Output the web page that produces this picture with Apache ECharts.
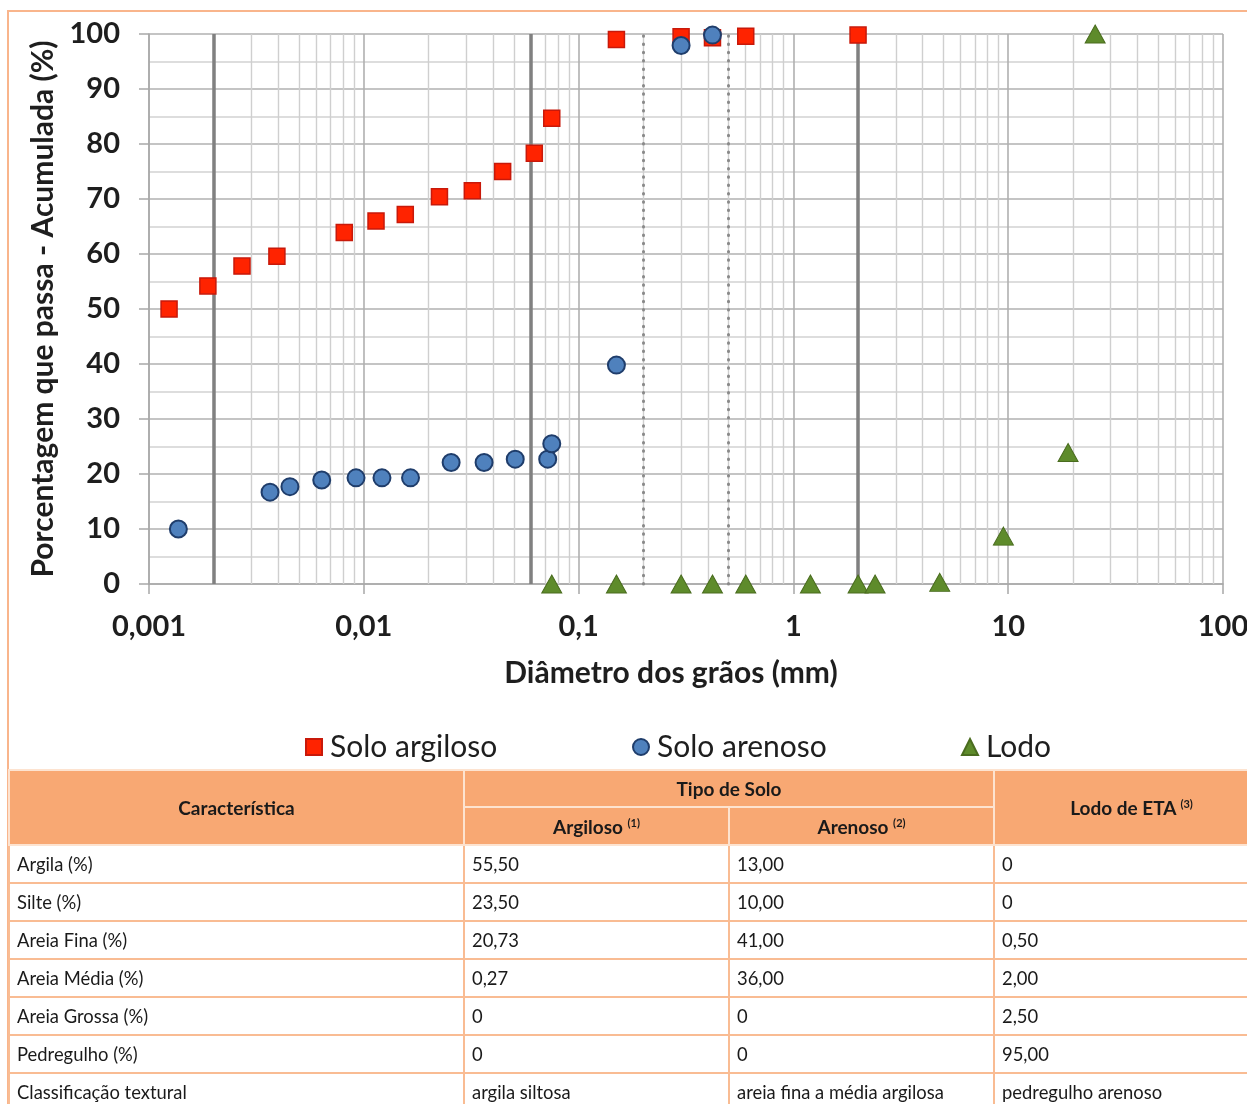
<!DOCTYPE html>
<html><head><meta charset="utf-8">
<script src="https://cdn.jsdelivr.net/npm/echarts@6/dist/echarts.min.js"></script>
<style>
html,body{margin:0;padding:0;background:#fff;width:1247px;height:1104px;overflow:hidden;}
#frame{position:absolute;left:7px;top:10px;width:1260px;height:1110px;border-left:2px solid #F9B58C;border-top:2px solid #F9B58C;box-sizing:border-box;}
#chart{position:absolute;left:0;top:0;width:1247px;height:770px;}
#tbl{position:absolute;left:8px;top:769px;width:1260px;border-collapse:collapse;table-layout:fixed;font-family:Lato,"Open Sans",sans-serif;font-size:18.4px;color:#1a1a1a;}
#tbl th{background:#F8A873;font-weight:bold;font-size:19px;text-align:center;border:2px solid #FDE3D0;padding:0;}
#tbl td{border:2px solid #F9BC93;padding:0 0 0 7px;text-align:left;height:36px;white-space:nowrap;}
#tbl sup{font-size:11px;vertical-align:7px;}
</style></head>
<body>
<div id="frame"></div>
<div id="chart"></div>
<table id="tbl"></table>
<script>
// ---- data ----
const seriesNames = ['Solo argiloso', 'Solo arenoso', 'Lodo'];
const xTickLabels = ['0,001', '0,01', '0,1', '1', '10', '100'];
const argilosoX = [0.00124, 0.00188, 0.00271, 0.00394, 0.00811, 0.0114, 0.0156, 0.0225, 0.032, 0.0443, 0.0622, 0.075, 0.15, 0.3, 0.42, 0.6, 2.0];
const argilosoY = [50.0, 54.2, 57.8, 59.6, 63.9, 66.0, 67.2, 70.4, 71.5, 75.0, 78.3, 84.7, 99.0, 99.5, 99.3, 99.6, 99.8];
const arenosoX = [0.00137, 0.00366, 0.00453, 0.00637, 0.0092, 0.01215, 0.0165, 0.0255, 0.0363, 0.0507, 0.0718, 0.075, 0.15, 0.3, 0.42];
const arenosoY = [10.0, 16.7, 17.7, 18.9, 19.3, 19.3, 19.3, 22.1, 22.1, 22.7, 22.7, 25.5, 39.8, 97.9, 99.8];
const lodoX = [0.075, 0.15, 0.3, 0.42, 0.6, 1.2, 2.0, 2.4, 4.8, 9.5, 19.0, 25.4];
const lodoY = [0, 0, 0, 0, 0, 0, 0, 0, 0.3, 8.7, 23.9, 100];
const boundarySolid = [0.002, 0.06, 2];
const boundaryDotted = [0.2, 0.5];
const minorMultipliers = [2, 3, 4, 5, 6, 7, 8, 9];
const decades = [0.001, 0.01, 0.1, 1, 10];

const tableRowLabels = ['Argila (%)', 'Silte (%)', 'Areia Fina (%)', 'Areia Média (%)', 'Areia Grossa (%)', 'Pedregulho (%)', 'Classificação textural'];
const tableArgiloso = ['55,50', '23,50', '20,73', '0,27', '0', '0', 'argila siltosa'];
const tableArenoso = ['13,00', '10,00', '41,00', '36,00', '0', '0', 'areia fina a média argilosa'];
const tableLodo = ['0', '0', '0,50', '2,00', '2,50', '95,00', 'pedregulho arenoso'];

// ---- table ----
(function () {
  const t = document.getElementById('tbl');
  let h = '<colgroup><col style="width:455px"><col style="width:265px"><col style="width:265px"><col style="width:275px"></colgroup>';
  h += '<tr style="height:37px"><th rowspan="2">Característica</th><th colspan="2">Tipo de Solo</th><th rowspan="2">Lodo de ETA <sup>(3)</sup></th></tr>';
  h += '<tr style="height:38px"><th>Argiloso <sup>(1)</sup></th><th>Arenoso <sup>(2)</sup></th></tr>';
  for (let i = 0; i < tableRowLabels.length; i++) {
    h += '<tr><td>' + tableRowLabels[i] + '</td><td>' + tableArgiloso[i] + '</td><td>' + tableArenoso[i] + '</td><td>' + tableLodo[i] + '</td></tr>';
  }
  t.innerHTML = h;
})();

// ---- chart ----
const minorX = [];
decades.forEach(d => minorMultipliers.forEach(m => minorX.push(+(m * d).toPrecision(3))));
const pair = (xs, ys) => xs.map((x, i) => [x, ys[i]]);
const vline = (v, style) => [{ coord: [v, 0], lineStyle: style }, { coord: [v, 100] }];
const FONT = 'Lato';
const TXT = '#1e1e1e';

const chart = echarts.init(document.getElementById('chart'), null, { renderer: 'canvas' });
const legendBase = {
  top: 732, itemWidth: 16, itemHeight: 16, itemGap: 0, padding: 0,
  textStyle: { fontFamily: FONT, fontSize: 30, color: TXT, padding: [0, 0, 0, 3] },
  selectedMode: false
};
chart.setOption({
  animation: false,
  backgroundColor: 'transparent',
  grid: { left: 149, right: 24, top: 34, bottom: 186, containLabel: false, outerBoundsMode: 'none' },
  legend: [
    Object.assign({}, legendBase, { left: 305, data: [seriesNames[0]] }),
    Object.assign({}, legendBase, { left: 632, data: [seriesNames[1]] }),
    Object.assign({}, legendBase, { left: 961, data: [seriesNames[2]] })
  ],
  xAxis: {
    type: 'log', logBase: 10, min: 0.001, max: 100,
    axisLine: { show: true, lineStyle: { color: '#A8A8A8', width: 1.5 } },
    axisTick: { show: true, length: 10, lineStyle: { color: '#A8A8A8', width: 1.5 } },
    splitLine: { show: true, lineStyle: { color: '#B0B0B0', width: 1.6 } },
    axisLabel: {
      margin: 28, fontFamily: FONT, fontWeight: 'bold', fontSize: 29, color: TXT,
      formatter: v => xTickLabels[Math.round(Math.log10(v)) + 3]
    },
    name: 'Diâmetro dos grãos (mm)', nameLocation: 'middle', nameGap: 74,
    nameTextStyle: { fontFamily: FONT, fontWeight: 'bold', fontSize: 30, color: TXT, padding: [0, 30, 0, 0] }
  },
  yAxis: {
    type: 'value', min: 0, max: 100, interval: 10,
    axisLine: { show: true, lineStyle: { color: '#A8A8A8', width: 1.5 } },
    axisTick: { show: true, length: 10, lineStyle: { color: '#A8A8A8', width: 1.5 } },
    splitLine: { show: true, lineStyle: { color: '#B0B0B0', width: 1.6 } },
    minorTick: { show: false, splitNumber: 2 },
    minorSplitLine: { show: true, lineStyle: { color: '#D2D2D2', width: 1.5 } },
    axisLabel: { margin: 29, fontFamily: FONT, fontWeight: 'bold', fontSize: 29, color: TXT },
    name: 'Porcentagem que passa - Acumulada (%)', nameLocation: 'middle', nameGap: 91,
    nameTextStyle: { fontFamily: FONT, fontWeight: 'bold', fontSize: 30, color: TXT }
  },
  series: [
    {
      name: 'minor-x', type: 'scatter', data: [], silent: true, z: 1,
      markLine: {
        silent: true, symbol: ['none', 'none'], label: { show: false }, animation: false,
        data: minorX.map(v => vline(v, { color: '#CFCFCF', width: 1.4, type: 'solid' }))
      }
    },
    {
      name: 'bounds', type: 'scatter', data: [], silent: true, z: 2,
      markLine: {
        silent: true, symbol: ['none', 'none'], label: { show: false }, animation: false,
        data: boundarySolid.map(v => vline(v, { color: '#808080', width: 3.5, type: 'solid' }))
          .concat(boundaryDotted.map(v => vline(v, { color: '#8A8A8A', width: 3, type: [0.5, 7.8], cap: 'round' })))
      }
    },
    {
      name: seriesNames[0], type: 'scatter', z: 5, symbol: 'rect', symbolSize: 16,
      itemStyle: { color: '#FF2300', borderColor: '#C8190A', borderWidth: 1.5, opacity: 1 },
      data: pair(argilosoX, argilosoY)
    },
    {
      name: seriesNames[1], type: 'scatter', z: 6, symbol: 'circle', symbolSize: 17,
      itemStyle: { color: '#4F81BD', borderColor: '#1F3D6B', borderWidth: 2, opacity: 1 },
      data: pair(arenosoX, arenosoY)
    },
    {
      name: seriesNames[2], type: 'scatter', z: 7, symbol: 'triangle', symbolSize: [20, 18],
      itemStyle: { color: '#5E8B2B', borderColor: '#4A6C1F', borderWidth: 1, opacity: 1 },
      data: pair(lodoX, lodoY)
    }
  ]
});
</script>
</body></html>
